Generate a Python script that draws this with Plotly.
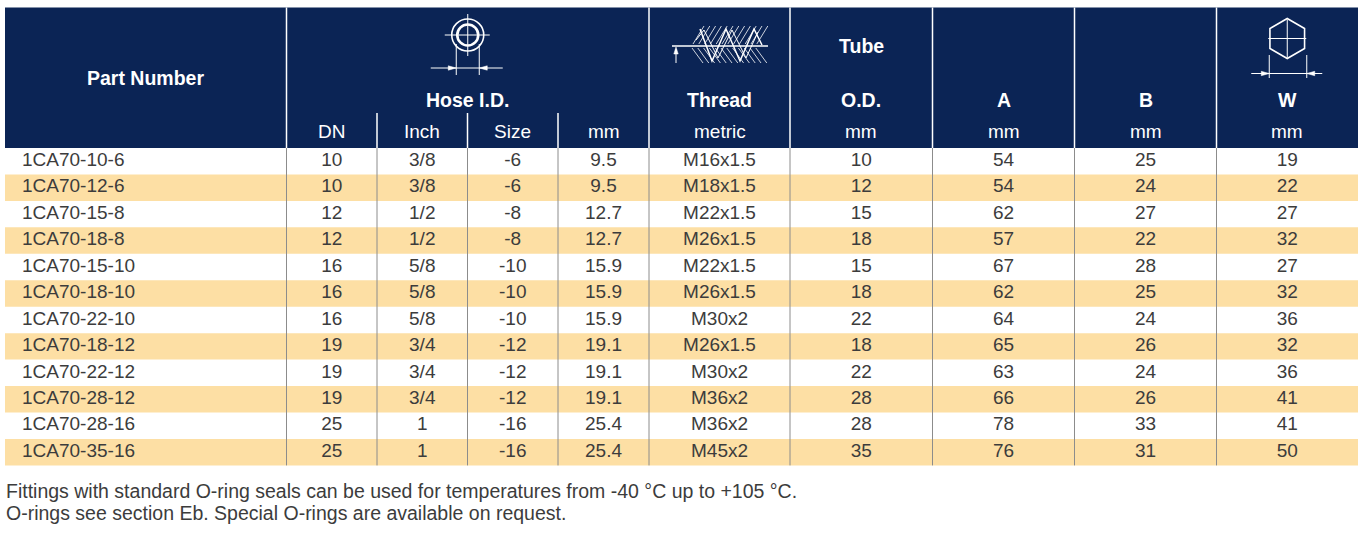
import math
import plotly.graph_objects as go

# ---------------- data ----------------
part_numbers = ["1CA70-10-6", "1CA70-12-6", "1CA70-15-8", "1CA70-18-8", "1CA70-15-10",
                "1CA70-18-10", "1CA70-22-10", "1CA70-18-12", "1CA70-22-12", "1CA70-28-12",
                "1CA70-28-16", "1CA70-35-16"]
dn = ["10", "10", "12", "12", "16", "16", "16", "19", "19", "19", "25", "25"]
inch = ["3/8", "3/8", "1/2", "1/2", "5/8", "5/8", "5/8", "3/4", "3/4", "3/4", "1", "1"]
size = ["-6", "-6", "-8", "-8", "-10", "-10", "-10", "-12", "-12", "-12", "-16", "-16"]
hose_mm = ["9.5", "9.5", "12.7", "12.7", "15.9", "15.9", "15.9", "19.1", "19.1", "19.1", "25.4", "25.4"]
thread = ["M16x1.5", "M18x1.5", "M22x1.5", "M26x1.5", "M22x1.5", "M26x1.5", "M30x2",
          "M26x1.5", "M30x2", "M36x2", "M36x2", "M45x2"]
tube_od = ["10", "12", "15", "18", "15", "18", "22", "18", "22", "28", "28", "35"]
dim_a = ["54", "54", "62", "57", "67", "62", "64", "65", "63", "66", "78", "76"]
dim_b = ["25", "24", "27", "22", "28", "25", "24", "26", "24", "26", "33", "31"]
dim_w = ["19", "22", "27", "32", "27", "32", "36", "32", "36", "41", "41", "50"]

unit_labels = ["DN", "Inch", "Size", "mm", "metric", "mm", "mm", "mm", "mm"]
footnotes = ["Fittings with standard O-ring seals can be used for temperatures from -40 °C up to +105 °C.",
             "O-rings see section Eb. Special O-rings are available on request."]

# ---------------- styles / layout ----------------
W, H = 1365, 537
NAVY = "#0b2455"
YELLOW = "#fddfa4"
TXT = "#3c3c3c"
GRID = "#8c8c8c"
FONT = "Liberation Sans, Arial, Helvetica, sans-serif"

edges = [5, 286.5, 377, 467.5, 558, 649, 790, 932.5, 1074.5, 1216.5, 1358]
top = 7.5
head_bot = 148
row_h = 26.45
sub_top = 113
units_y = 131
label_y = 100

centers = [(edges[i] + edges[i + 1]) / 2 for i in range(len(edges) - 1)]
n = len(part_numbers)
row_y = [head_bot + (i + 0.5) * row_h for i in range(n)]
tbl_bot = head_bot + n * row_h

fig = go.Figure()
shapes = []

def rect(x0, y0, x1, y1, color):
    shapes.append(dict(type="rect", x0=x0, y0=y0, x1=x1, y1=y1, fillcolor=color,
                       line=dict(width=0), layer="below"))

def circle(cx, cy, r, color, width):
    shapes.append(dict(type="circle", x0=cx - r, y0=cy - r, x1=cx + r, y1=cy + r,
                       line=dict(color=color, width=width), layer="below"))

def line(x0, y0, x1, y1, color, width=1):
    shapes.append(dict(type="line", x0=x0, y0=y0, x1=x1, y1=y1,
                       line=dict(color=color, width=width), layer="below"))

def path(d, color, width=1, fill=None):
    s = dict(type="path", path=d, line=dict(color=color, width=width), layer="below")
    if fill:
        s["fillcolor"] = fill
    shapes.append(s)

def arrow_h(tip_x, y, direction, color="white"):
    # direction +1: pointing right, -1: pointing left
    L, hw = 8, 2.2
    bx = tip_x - direction * L
    path(f"M {tip_x},{y} L {bx},{y - hw} L {bx},{y + hw} Z", color, 0.5, color)

# header background
rect(edges[0], top, edges[-1], head_bot, NAVY)
# striped rows
for i in range(n):
    if i % 2 == 1:
        rect(edges[0], head_bot + i * row_h, edges[-1], head_bot + (i + 1) * row_h, YELLOW)

# vertical separators
main_edges = [edges[1], edges[5], edges[6], edges[7], edges[8], edges[9]]
sub_edges = [edges[2], edges[3], edges[4]]
for x in main_edges:
    line(x, top, x, head_bot, "white", 1.5)
for x in sub_edges:
    line(x, sub_top, x, head_bot, "white", 1.5)
for x in main_edges + sub_edges:
    line(x, head_bot, x, tbl_bot, GRID, 1)

# ---- hose I.D. icon ----
cx, cy = (edges[1] + edges[5]) / 2, 35
circle(cx, cy, 16, "white", 1.6)
circle(cx, cy, 10.5, "white", 2.6)
line(cx - 23, cy, cx + 22, cy, "white", 1)
line(cx, cy - 21, cx, cy + 21, "white", 1)
line(cx - 11.5, cy + 9, cx - 11.5, 75, "white", 1)
line(cx + 11.5, cy + 9, cx + 11.5, 75, "white", 1)
line(cx - 37, 68, cx + 35, 68, "white", 1)
arrow_h(cx - 11.5, 68, 1)
arrow_h(cx + 11.5, 68, -1)

# ---- thread icon ----
ty = 46
line(672, ty, 768, ty, "white", 1.5)
line(676, ty + 17, 676, ty + 3, "white", 1)
path(f"M 676,{ty+1} L 673.8,{ty+8} L 678.2,{ty+8} Z", "white", 0.5, "white")
for k in range(12):
    x0 = 693 + k * 5.8
    line(x0, ty - 2, x0 + 11, ty - 20, "white", 0.8)
for k in range(12):
    x0 = 692 + k * 5.8
    line(x0, ty + 2, x0 + 11, ty + 17, "white", 0.8)
path("M 700,29 L 712,61 L 726,29 L 740,61 L 754,29 L 762,45", "white", 1.5)
path("M 696,40 L 704,30 L 718,58 L 732,30 L 746,58 L 758,32", "white", 1.0)

# ---- hex (W) icon ----
hx, hy, R = centers[9], 38.5, 20
pts = []
for ang in [90, 30, -30, -90, -150, 150]:
    a_ = math.radians(ang)
    pts.append((hx + R * math.cos(a_), hy - R * math.sin(a_)))
d = "M " + " L ".join(f"{px:.2f},{py:.2f}" for px, py in pts) + " Z"
path(d, "white", 1.6)
line(hx - 19, hy, hx + 19, hy, "white", 1)
line(hx, hy - 19, hx, hy + 19, "white", 1)
line(hx - 18, 55, hx - 18, 78, "white", 1)
line(hx + 19.5, 55, hx + 19.5, 78, "white", 1)
line(hx - 36, 73.5, hx + 35, 73.5, "white", 1)
arrow_h(hx - 18, 73.5, 1)
arrow_h(hx + 19.5, 73.5, -1)

# ---------------- header text ----------------
ann = []
def label(x, y, text, size=19.5, bold=False, color="white", xanchor="center"):
    ann.append(dict(x=x, y=y, xref="x", yref="y", text=text, showarrow=False,
                    xanchor=xanchor, yanchor="middle",
                    font=dict(family=FONT, size=size, color=color,
                              weight="bold" if bold else "normal")))

label(centers[0], 78, "Part Number", 19.5, True)
label((edges[1] + edges[5]) / 2, label_y, "Hose I.D.", 19.5, True)
label(centers[5], label_y, "Thread", 19.5, True)
label(centers[6], 46, "Tube", 19.5, True)
label(centers[6], label_y, "O.D.", 19.5, True)
label(centers[7], label_y, "A", 19.5, True)
label(centers[8], label_y, "B", 19.5, True)
label(centers[9], label_y, "W", 19.5, True)
for c, u in zip(centers[1:], unit_labels):
    label(c, units_y, u, 19)

# footnotes
label(4, 491, footnotes[0], 19.5, False, TXT, "left")
label(4, 512.5, footnotes[1], 19.5, False, TXT, "left")

# ---------------- data text ----------------
cols = [dn, inch, size, hose_mm, thread, tube_od, dim_a, dim_b, dim_w]
fig.add_trace(go.Scatter(x=[22] * n, y=row_y, mode="text", text=part_numbers,
                         textposition="middle right",
                         textfont=dict(family=FONT, size=19, color=TXT),
                         hoverinfo="skip", showlegend=False))
for c, vals in zip(centers[1:], cols):
    fig.add_trace(go.Scatter(x=[c] * n, y=row_y, mode="text", text=vals,
                             textposition="middle center",
                             textfont=dict(family=FONT, size=19, color=TXT),
                             hoverinfo="skip", showlegend=False))

fig.update_layout(
    width=W, height=H, margin=dict(l=0, r=0, t=0, b=0),
    paper_bgcolor="white", plot_bgcolor="white",
    xaxis=dict(range=[0, W], visible=False, fixedrange=True),
    yaxis=dict(range=[H, 0], visible=False, fixedrange=True),
    shapes=shapes, annotations=ann, showlegend=False,
)
fig.write_html("out.html", config={"displayModeBar": False},
               post_script="document.body.style.margin='0';document.body.style.overflow='hidden';")
